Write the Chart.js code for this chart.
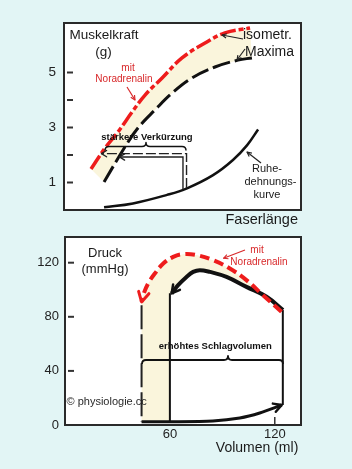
<!DOCTYPE html>
<html><head><meta charset="utf-8">
<style>
html,body{margin:0;padding:0;background:#e2f5f5;}
body{width:352px;height:469px;position:relative;overflow:hidden;}
canvas{position:absolute;left:0;}
#top{top:0}
#bot{top:230px}
</style>
<script src="https://cdn.jsdelivr.net/npm/chart.js"></script>
</head><body>
<canvas id="top" width="352" height="230"></canvas>
<canvas id="bot" width="352" height="239"></canvas>
<script>
const FONT = '"Liberation Sans", Arial, Helvetica, sans-serif';
Chart.defaults.font.family = FONT;
Chart.defaults.color = '#222';

// ---------- top chart: Muskelkraft vs Faserlänge ----------
const forceTickValues = [1, 2, 3, 4, 5];
const forceTickLabels = [1, 3, 5];
const forceNA  = [[11.4,1.49],[17.3,2.25],[22.8,2.84],[28.7,3.56],[34.2,4.18],[41.4,4.80],[49.8,5.53],[59.5,6.07],[67.9,6.44],[78.5,6.62]];
const forceIso = [[16.9,1.02],[25.7,2.29],[31.2,2.98],[38.4,3.64],[45.6,4.25],[54.0,4.80],[63.7,5.20],[73.4,5.45],[79.3,5.53]];
const restCurve = [[16.9,0.10],[29.1,0.24],[43.5,0.55],[51.9,0.79],[62.9,1.27],[71.3,1.82],[77.2,2.35],[81.9,2.93]];
const shortenNA  = [[51.7,0.80],[51.7,2.05],[15.8,2.05]];
const shortenIso = [[50.2,0.75],[50.2,1.93],[23.4,1.93]];

// ---------- bottom chart: Druck vs Volumen ----------
const volumeTicks = [60, 120];
const pressureTicks = [0, 40, 80, 120];
const fillingPhase = [[43.8,2.4],[60,2.4],[84.6,3.0],[100,5.2],[111.4,8.9],[124,14.8]];
const contractionPhase = [[124.6,14.8],[124.6,85]];
const ejectionPhase = [[124.7,85],[115.3,94.8],[103.8,102.1],[92.4,109.5],[82.9,113.2],[77.1,114.5],[73.3,113.2],[69.5,109.5],[64.7,103.4],[61,97.3]];
const relaxationPhase = [[60,97.5],[60,2.4]];
const ejectionNA = [[123.8,83.7],[113.3,96],[103.8,107.1],[94.3,115.7],[84.7,121.9],[75.3,125.6],[67.6,126.3],[61.9,124.3],[56.2,119.4],[51.4,112],[47.6,104.7],[44.7,96],[43.8,91]];
const relaxationNA = [[43.8,88.6],[43.8,2.4]];

const RED = '#ee1c1c';
const CREAM = '#faf5dc';
const toXY = a => a.map(([x, y]) => ({x, y}));
const rev = a => a.slice().reverse();

function headAt(ctx, fx, fy, x, y, len, ang) {
  const a = Math.atan2(y - fy, x - fx);
  ctx.beginPath();
  ctx.moveTo(x - len * Math.cos(a - ang), y - len * Math.sin(a - ang));
  ctx.lineTo(x, y);
  ctx.lineTo(x - len * Math.cos(a + ang), y - len * Math.sin(a + ang));
  ctx.stroke();
}
function arrow(ctx, x1, y1, x2, y2, color, w, len) {
  ctx.strokeStyle = color; ctx.lineWidth = w; ctx.setLineDash([]);
  ctx.beginPath(); ctx.moveTo(x1, y1); ctx.lineTo(x2, y2); ctx.stroke();
  headAt(ctx, x1, y1, x2, y2, len, 0.45);
}
function datasetHead(chart, idx, color, w, len, ang) {
  const pts = chart.getDatasetMeta(idx).data;
  const b = pts[pts.length - 1], p = pts[pts.length - 2];
  let fx = p.x, fy = p.y;
  if (b.cp1x !== undefined && Math.hypot(b.cp1x - b.x, b.cp1y - b.y) > 0.5) { fx = b.cp1x; fy = b.cp1y; }
  const ctx = chart.ctx;
  ctx.strokeStyle = color; ctx.lineWidth = w; ctx.setLineDash([]); ctx.lineCap = 'round'; ctx.lineJoin = 'round';
  headAt(ctx, fx, fy, b.x, b.y, len, ang);
  ctx.lineCap = 'butt';
}
function brace(ctx, x1, x2, y, tipX, r, w) {
  ctx.strokeStyle = '#111'; ctx.lineWidth = w; ctx.setLineDash([]);
  ctx.beginPath();
  ctx.moveTo(x1, y + r);
  ctx.quadraticCurveTo(x1, y, x1 + r, y);
  ctx.lineTo(tipX - r, y);
  ctx.quadraticCurveTo(tipX, y, tipX, y - r);
  ctx.quadraticCurveTo(tipX, y, tipX + r, y);
  ctx.lineTo(x2 - r, y);
  ctx.quadraticCurveTo(x2, y, x2, y + r);
  ctx.stroke();
}
function label(ctx, str, x, y, size, color, align, weight) {
  ctx.font = (weight || 'normal') + ' ' + size + 'px ' + FONT;
  ctx.fillStyle = color; ctx.textAlign = align || 'center'; ctx.textBaseline = 'middle';
  ctx.fillText(str, x, y);
}
function frame(chart, skipZero) {
  const {ctx, chartArea: a, scales: {y}} = chart;
  ctx.save();
  ctx.setLineDash([]);
  ctx.strokeStyle = '#2a2a2a'; ctx.lineWidth = 2;
  ctx.strokeRect(a.left, a.top, a.right - a.left, a.bottom - a.top);
  ctx.strokeStyle = '#333'; ctx.lineWidth = 2;
  y.ticks.forEach(t => {
    if (skipZero && t.value === 0) return;
    const py = y.getPixelForValue(t.value);
    ctx.beginPath(); ctx.moveTo(a.left + 3, py); ctx.lineTo(a.left + 9, py); ctx.stroke();
  });
  ctx.restore();
}
const whiteArea = {
  id: 'whiteArea',
  beforeDraw(c) {
    const {ctx, chartArea: a} = c;
    ctx.save(); ctx.fillStyle = '#fff';
    ctx.fillRect(a.left, a.top, a.right - a.left, a.bottom - a.top); ctx.restore();
  }
};

const topDeco = {
  id: 'topDeco',
  afterDatasetsDraw(c) {
    const ctx = c.ctx;
    frame(c, false);
    ctx.save();
    datasetHead(c, 0, '#222', 1.4, 6, 0.55);
    datasetHead(c, 1, '#222', 1.4, 6, 0.55);
    label(ctx, 'Muskelkraft', 104, 35, 13.5, '#1a1a1a');
    label(ctx, '(g)', 103.5, 52, 13.5, '#1a1a1a');
    label(ctx, 'isometr.', 243, 35, 14, '#1a1a1a', 'left');
    label(ctx, 'Maxima', 245, 52, 14, '#1a1a1a', 'left');
    arrow(ctx, 243, 39, 222, 35, '#222', 1.2, 5);
    arrow(ctx, 245, 49, 237, 60, '#222', 1.2, 5);
    label(ctx, 'mit', 128, 68, 10, '#d8282a');
    label(ctx, 'Noradrenalin', 124, 79, 10, '#d8282a');
    arrow(ctx, 127, 87, 135, 100, '#d8282a', 1.2, 5);
    label(ctx, 'stärkere Verkürzung', 147, 137, 9.5, '#111', 'center', 'bold');
    brace(ctx, 105, 186, 146.5, 146, 4, 1.5);
    label(ctx, 'Ruhe-', 267, 169, 11, '#1a1a1a');
    label(ctx, 'dehnungs-', 270.5, 182, 11, '#1a1a1a');
    label(ctx, 'kurve', 267, 194.5, 11, '#1a1a1a');
    arrow(ctx, 261, 163, 247, 152, '#222', 1.2, 5);
    label(ctx, 'Faserlänge', 298, 220, 14.5, '#1a1a1a', 'right');
    ctx.restore();
  }
};

const botDeco = {
  id: 'botDeco',
  afterDatasetsDraw(c) {
    const ctx = c.ctx;
    const {chartArea: a, scales: {x}} = c;
    frame(c, true);
    ctx.save();
    ctx.strokeStyle = '#333'; ctx.lineWidth = 1.5;
    const px = x.getPixelForValue(volumeTicks[1]);
    ctx.beginPath(); ctx.moveTo(px, a.bottom - 8); ctx.lineTo(px, a.bottom); ctx.stroke();
    datasetHead(c, 0, RED, 3, 11, 0.5);
    datasetHead(c, 2, '#111', 2.5, 9, 0.5);
    datasetHead(c, 5, '#111', 2.5, 9, 0.5);
    label(ctx, 'Druck', 105, 23.5, 13, '#1a1a1a');
    label(ctx, '(mmHg)', 105, 39.5, 13, '#1a1a1a');
    label(ctx, 'mit', 257, 20.7, 10, '#d8282a');
    label(ctx, 'Noradrenalin', 259, 32.7, 10, '#d8282a');
    arrow(ctx, 245, 20, 223.5, 28.3, '#d8282a', 1.1, 5);
    label(ctx, 'erhöhtes Schlagvolumen', 215.3, 116.7, 9.5, '#111', 'center', 'bold');
    brace(ctx, 142, 283, 130, 228, 4, 1.8);
    label(ctx, '© physiologie.cc', 66.5, 172.3, 11, '#2a2a2a', 'left');
    label(ctx, 'Volumen (ml)', 298.3, 218, 14, '#1a1a1a', 'right');
    ctx.restore();
  }
};

const line = (data, color, width, dash, tension) => ({
  data: toXY(data), showLine: true, borderColor: color, borderWidth: width,
  borderDash: dash || [], pointRadius: 0, tension: tension || 0, fill: false
});
const shape = (data) => ({
  data: toXY(data), showLine: true, borderColor: 'rgba(0,0,0,0)', borderWidth: 0,
  pointRadius: 0, tension: 0, fill: 'shape', backgroundColor: CREAM
});
const noPad = s => { s.paddingTop = 0; s.paddingBottom = 0; s.paddingLeft = 0; s.paddingRight = 0; };

new Chart(document.getElementById('top'), {
  type: 'scatter',
  data: { datasets: [
    line(shortenNA, '#222', 1.4, [10, 3]),
    line(shortenIso, '#222', 1.4),
    line(forceNA, RED, 3.5, [16, 3, 5, 3], 0.4),
    line(forceIso, '#111', 3, [18, 5], 0.4),
    line(restCurve, '#111', 2.5, [], 0.4),
    shape(forceNA.concat(rev(forceIso)))
  ]},
  options: {
    responsive: false, animation: false, devicePixelRatio: 1,
    layout: { padding: { left: 0, right: 51, top: 23, bottom: 20 } },
    plugins: { legend: { display: false }, tooltip: { enabled: false } },
    scales: {
      x: { type: 'linear', min: 0, max: 100, display: false },
      y: {
        type: 'linear', min: 0, max: 6.8,
        afterBuildTicks: s => { s.ticks = forceTickValues.map(v => ({value: v})); },
        afterFit: s => { s.width = 64; noPad(s); },
        grid: { display: false, drawTicks: false }, border: { display: false },
        ticks: { padding: 8, font: { size: 13.5 }, color: '#222',
          callback: v => forceTickLabels.includes(v) ? String(v) : '' }
      }
    }
  },
  plugins: [whiteArea, topDeco]
});

new Chart(document.getElementById('bot'), {
  type: 'scatter',
  data: { datasets: [
    line(ejectionNA, RED, 4, [10, 5], 0.4),
    line(relaxationNA, '#222', 2, [24, 5]),
    line(ejectionPhase, '#111', 4, [], 0.4),
    line(relaxationPhase, '#111', 2),
    line(contractionPhase, '#111', 2),
    line(fillingPhase, '#111', 3, [], 0.3),
    shape(ejectionNA.concat(relaxationNA, rev(relaxationPhase), rev(ejectionPhase)))
  ]},
  options: {
    responsive: false, animation: false, devicePixelRatio: 1,
    layout: { padding: { left: 0, right: 51, top: 7, bottom: 0 } },
    plugins: { legend: { display: false }, tooltip: { enabled: false } },
    scales: {
      x: {
        type: 'linear', min: 0, max: 135,
        afterBuildTicks: s => { s.ticks = volumeTicks.map(v => ({value: v})); },
        afterFit: s => { s.height = 44; noPad(s); },
        grid: { display: false, drawTicks: false }, border: { display: false },
        ticks: { padding: 2, font: { size: 13 }, color: '#222', maxRotation: 0 }
      },
      y: {
        type: 'linear', min: 0, max: 139,
        afterBuildTicks: s => { s.ticks = pressureTicks.map(v => ({value: v})); },
        afterFit: s => { s.width = 65; noPad(s); },
        grid: { display: false, drawTicks: false }, border: { display: false },
        ticks: { padding: 6, font: { size: 13 }, color: '#222' }
      }
    }
  },
  plugins: [whiteArea, botDeco]
});
</script>
</body></html>
